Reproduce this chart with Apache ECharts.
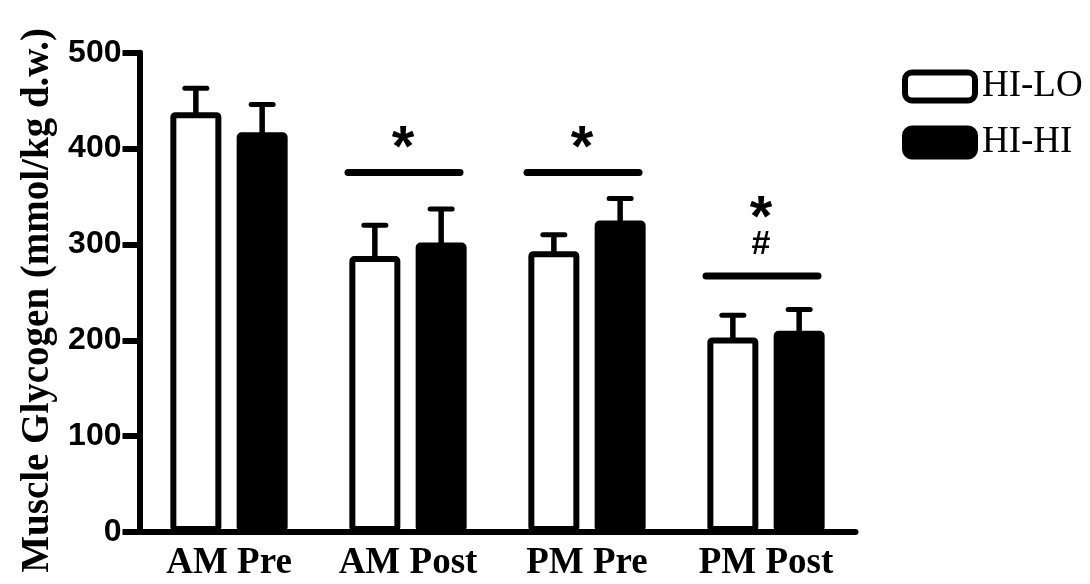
<!DOCTYPE html>
<html>
<head>
<meta charset="utf-8">
<title>Muscle Glycogen</title>
<script src="https://cdn.jsdelivr.net/npm/echarts@6/dist/echarts.min.js"></script>
<style>
  html, body { margin: 0; padding: 0; background: #fff; }
  #chart { width: 1090px; height: 584px; }
</style>
</head>
<body>
<div id="chart"></div>
<script>
const categories = ['AM Pre', 'AM Post', 'PM Pre', 'PM Post'];
const hiLoMean = [438, 288, 293, 203];
const hiLoErr = [25, 32, 17, 23];
const hiHiMean = [417, 302, 325, 210];
const hiHiErr = [29, 35, 23, 22];
const yTicks = [0, 100, 200, 300, 400, 500];
// significance bars: which category, height of the bar, marks from the bar upwards
const sigCategory = [1, 2, 3];
const sigLevel = [375, 375, 267];
const sigMarks = [['*'], ['*'], ['#', '*']];

const BAR_W = 51;
const BAR_GAP = 0.3;
const HALF = BAR_W * (1 + BAR_GAP) / 2;

function errorSeries(mean, err, side) {
  return {
    type: 'custom',
    z: 5,
    encode: { x: 0, y: [1, 2] },
    data: mean.map((m, i) => [i, m, m + err[i]]),
    renderItem(params, api) {
      const low = api.coord([api.value(0), api.value(1)]);
      const high = api.coord([api.value(0), api.value(2)]);
      const x = low[0] + side * HALF;
      return {
        type: 'group',
        children: [
          { type: 'line', shape: { x1: x, y1: low[1] + 3, x2: x, y2: high[1] },
            style: { stroke: '#000', lineWidth: 5.5 } },
          { type: 'line', shape: { x1: x - 11, y1: high[1], x2: x + 11, y2: high[1] },
            style: { stroke: '#000', lineWidth: 5, lineCap: 'round' } }
        ]
      };
    }
  };
}

const chart = echarts.init(document.getElementById('chart'));
chart.setOption({
  animation: false,
  backgroundColor: '#fff',
  grid: { left: 139.5, right: 234.5, top: 52.7, bottom: 52, outerBoundsMode: 'none' },
  legend: {
    orient: 'vertical',
    left: 902,
    top: 68,
    padding: 0,
    itemWidth: 70,
    itemHeight: 28,
    itemGap: 19,
    itemStyle: { borderWidth: 6, borderColor: '#000' },
    textStyle: { fontFamily: 'Liberation Serif', fontSize: 37, color: '#000', padding: [0, 0, 0, 2] },
    data: ['HI-LO', 'HI-HI']
  },
  xAxis: {
    type: 'category',
    data: categories,
    axisLine: { lineStyle: { color: '#000', width: 6, cap: 'round' } },
    axisTick: { alignWithLabel: true, length: 15, lineStyle: { color: '#000', width: 5 } },
    axisLabel: {
      interval: 0, hideOverlap: false,
      color: '#000', fontFamily: 'Liberation Serif', fontWeight: 'bold', fontSize: 37, margin: 13
    }
  },
  yAxis: {
    type: 'value',
    min: yTicks[0],
    max: yTicks[yTicks.length - 1],
    interval: yTicks[1] - yTicks[0],
    name: 'Muscle Glycogen (mmol/kg d.w.)',
    nameLocation: 'middle',
    nameGap: 82,
    nameTextStyle: {
      color: '#000', fontFamily: 'Liberation Serif', fontWeight: 'bold', fontSize: 39,
      padding: [0, 16, 0, 0]
    },
    axisLine: { show: true, lineStyle: { color: '#000', width: 6 } },
    axisTick: { show: true, length: 17, lineStyle: { color: '#000', width: 6 } },
    axisLabel: { color: '#000', fontFamily: 'Liberation Sans', fontWeight: 'bold', fontSize: 32, margin: 18 },
    splitLine: { show: false }
  },
  series: [
    {
      name: 'HI-LO',
      type: 'bar',
      data: hiLoMean,
      barWidth: BAR_W,
      barGap: (BAR_GAP * 100) + '%',
      itemStyle: { color: '#fff', borderColor: '#000', borderWidth: 6, borderRadius: 2 }
    },
    {
      name: 'HI-HI',
      type: 'bar',
      data: hiHiMean,
      barWidth: BAR_W,
      barGap: (BAR_GAP * 100) + '%',
      itemStyle: { color: '#000', borderColor: '#000', borderWidth: 6, borderRadius: 2 }
    },
    errorSeries(hiLoMean, hiLoErr, -1),
    errorSeries(hiHiMean, hiHiErr, 1),
    {
      type: 'custom',
      z: 6,
      encode: { x: 0, y: 1 },
      data: sigCategory.map((c, i) => [c, sigLevel[i], i]),
      renderItem(params, api) {
        const p = api.coord([api.value(0), api.value(1)]);
        const marks = sigMarks[api.value(2)];
        const children = [
          { type: 'line', shape: { x1: p[0] - 60, y1: p[1], x2: p[0] + 52, y2: p[1] },
            style: { stroke: '#000', lineWidth: 7, lineCap: 'round' } }
        ];
        let y = p[1];
        marks.forEach(m => {
          if (m === '#') {
            y -= 31;
            children.push({ type: 'text', x: p[0] - 5, y: y,
              style: { text: m, fill: '#000', font: 'bold 34px "Liberation Sans"', align: 'center', verticalAlign: 'middle' } });
          } else {
            y -= (y === p[1] ? 36 : 38);
            children.push({ type: 'text', x: p[0] - 5, y: y + 13,
              style: { text: m, fill: '#000', font: 'bold 58px "Liberation Sans"', align: 'center', verticalAlign: 'middle' } });
          }
        });
        return { type: 'group', children };
      }
    }
  ]
});
window.addEventListener('resize', () => chart.resize());
</script>
</body>
</html>
